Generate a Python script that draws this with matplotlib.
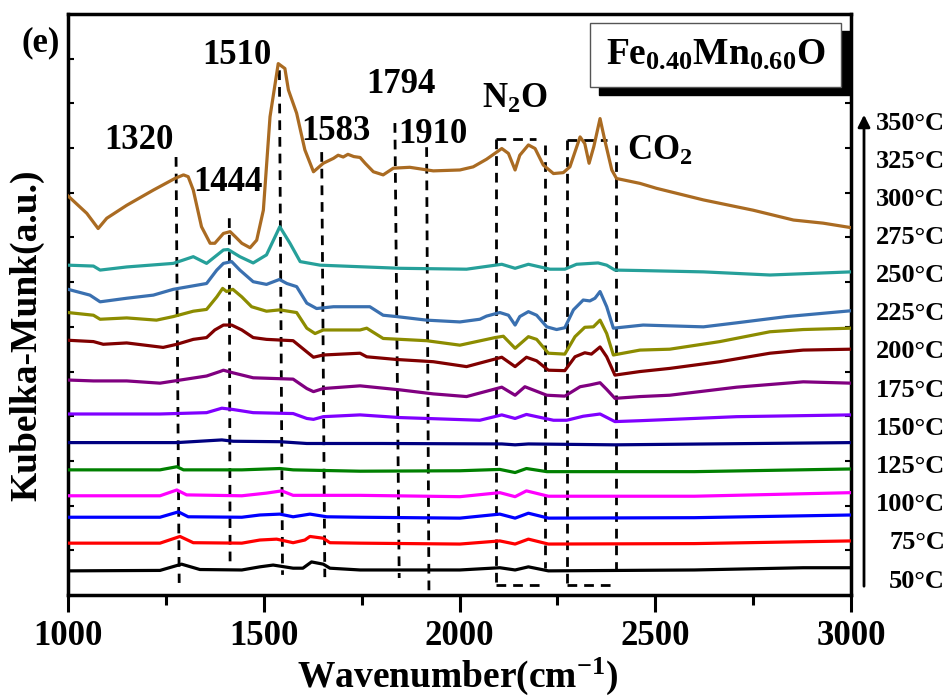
import numpy as np
import matplotlib
matplotlib.use('Agg')
from matplotlib import pyplot as plt
from matplotlib.patches import Rectangle

plt.rcParams['font.family'] = 'Liberation Serif'
plt.rcParams['font.weight'] = 'bold'
plt.rcParams['mathtext.fontset'] = 'custom'
plt.rcParams['mathtext.rm'] = 'Liberation Serif:bold'
plt.rcParams['mathtext.it'] = 'Liberation Serif:bold'
plt.rcParams['mathtext.bf'] = 'Liberation Serif:bold'

# in situ DRIFTS spectra, offset stacked, 50 -> 350 C
temps = ['50°C', '75°C', '100°C', '125°C', '150°C', '175°C', '200°C',
         '225°C', '250°C', '275°C', '300°C', '325°C', '350°C']
colors = ['#000000', '#FF0000', '#0000FF', '#FF00FF', '#008000', '#000080', '#8000FF',
          '#800080', '#800000', '#8C8C00', '#3A70B0', '#26A09A', '#AA6B22']

wn_50 = [1000, 1235, 1290, 1337, 1444, 1490, 1524, 1575, 1600, 1622, 1652, 1669, 1746, 2001, 2103, 2142, 2176, 2227, 2600, 2878, 3000]
km_50 = [0.54, 0.55, 0.69, 0.57, 0.56, 0.63, 0.67, 0.60, 0.60, 0.74, 0.69, 0.60, 0.56, 0.56, 0.61, 0.56, 0.63, 0.54, 0.56, 0.61, 0.61]

wn_75 = [1000, 1235, 1286, 1320, 1444, 1490, 1533, 1575, 1605, 1618, 1652, 1669, 1746, 2001, 2103, 2142, 2176, 2227, 2600, 3000]
km_75 = [1.16, 1.16, 1.31, 1.17, 1.16, 1.23, 1.25, 1.17, 1.23, 1.31, 1.27, 1.17, 1.16, 1.14, 1.21, 1.14, 1.25, 1.14, 1.15, 1.21]

wn_100 = [1000, 1235, 1282, 1307, 1444, 1490, 1541, 1575, 1618, 1661, 1746, 2001, 2103, 2142, 2176, 2227, 2600, 3000]
km_100 = [1.74, 1.74, 1.86, 1.75, 1.74, 1.79, 1.81, 1.75, 1.81, 1.75, 1.74, 1.72, 1.81, 1.72, 1.83, 1.72, 1.73, 1.79]

wn_125 = [1000, 1235, 1278, 1303, 1444, 1507, 1546, 1575, 1746, 2001, 2103, 2142, 2171, 2227, 2600, 3000]
km_125 = [2.22, 2.22, 2.35, 2.24, 2.22, 2.28, 2.33, 2.23, 2.23, 2.20, 2.29, 2.20, 2.33, 2.21, 2.21, 2.29]

wn_150 = [1000, 1235, 1278, 1295, 1444, 1541, 1575, 1746, 2001, 2103, 2142, 2171, 2223, 2600, 3000]
km_150 = [2.80, 2.80, 2.87, 2.80, 2.80, 2.83, 2.80, 2.77, 2.78, 2.81, 2.74, 2.83, 2.76, 2.76, 2.82]

wn_175 = [1000, 1278, 1393, 1422, 1541, 1610, 1800, 2108, 2142, 2176, 2397, 3000]
km_175 = [3.41, 3.41, 3.47, 3.44, 3.43, 3.39, 3.39, 3.38, 3.36, 3.38, 3.36, 3.41]

wn_200 = [1000, 1235, 1354, 1393, 1422, 1473, 1575, 1610, 1627, 1652, 1746, 1848, 2052, 2108, 2142, 2171, 2240, 2274, 2316, 2359, 2397, 2461, 2708, 3000]
km_200 = [4.05, 4.05, 4.08, 4.18, 4.15, 4.08, 4.06, 3.95, 3.93, 3.99, 4.03, 3.97, 3.91, 4.03, 3.95, 4.04, 3.91, 3.91, 4.00, 4.05, 3.88, 3.90, 3.99, 4.03]

wn_225 = [1000, 1065, 1150, 1235, 1354, 1388, 1397, 1422, 1473, 1575, 1610, 1627, 1652, 1746, 1848, 1933, 2018, 2108, 2142, 2167, 2223, 2269, 2308, 2333, 2359, 2376, 2397, 2461, 2537, 2708, 2878, 3000]
km_225 = [4.81, 4.79, 4.79, 4.74, 4.90, 5.00, 5.03, 4.97, 4.86, 4.83, 4.62, 4.55, 4.62, 4.68, 4.59, 4.50, 4.44, 4.65, 4.47, 4.66, 4.47, 4.45, 4.66, 4.70, 4.75, 4.60, 4.40, 4.44, 4.47, 4.65, 4.77, 4.74]

wn_250 = [1000, 1065, 1090, 1150, 1243, 1278, 1320, 1354, 1375, 1397, 1418, 1444, 1473, 1507, 1575, 1610, 1627, 1652, 1746, 1763, 1839, 1933, 2018, 2108, 2142, 2171, 2197, 2227, 2269, 2295, 2320, 2337, 2359, 2376, 2397, 2461, 2537, 2665, 2793, 2878, 3000]
km_250 = [5.70, 5.67, 5.61, 5.64, 5.54, 5.61, 5.72, 5.76, 5.93, 6.04, 6.04, 5.93, 5.76, 5.72, 5.69, 5.44, 5.32, 5.37, 5.41, 5.33, 5.27, 5.22, 5.11, 5.32, 5.11, 5.32, 5.24, 5.03, 5.02, 5.33, 5.42, 5.39, 5.55, 5.33, 4.92, 5.00, 5.07, 5.22, 5.41, 5.48, 5.50]

wn_275 = [1000, 1065, 1082, 1150, 1226, 1269, 1320, 1354, 1380, 1395, 1405, 1421, 1444, 1469, 1507, 1541, 1584, 1610, 1631, 1652, 1746, 1763, 1805, 1916, 2001, 2091, 2112, 2142, 2176, 2197, 2227, 2269, 2295, 2320, 2342, 2359, 2376, 2393, 2461, 2537, 2665, 2793, 2878, 3000]
km_275 = [6.32, 6.26, 6.17, 6.20, 6.15, 6.23, 6.35, 6.39, 6.67, 6.86, 6.79, 6.84, 6.67, 6.45, 6.35, 6.38, 6.32, 5.97, 5.85, 5.93, 5.93, 5.97, 5.74, 5.69, 5.59, 5.76, 5.79, 5.52, 5.78, 5.72, 5.41, 5.39, 5.78, 5.99, 6.00, 6.15, 5.85, 5.37, 5.48, 5.50, 5.67, 5.89, 5.94, 5.97]

wn_300 = [1000, 1056, 1082, 1150, 1218, 1269, 1354, 1380, 1397, 1418, 1439, 1473, 1507, 1540, 1559, 1584, 1610, 1635, 1678, 1771, 1805, 1839, 1916, 2001, 2052, 2069, 2103, 2125, 2142, 2154, 2176, 2197, 2223, 2248, 2269, 2291, 2316, 2333, 2346, 2359, 2376, 2393, 2469, 2623, 2708, 2836, 3000]
km_300 = [6.84, 6.71, 6.56, 6.64, 6.71, 6.84, 6.97, 7.27, 7.42, 7.46, 7.27, 7.01, 6.95, 7.06, 6.97, 6.90, 6.53, 6.41, 6.45, 6.45, 6.26, 6.23, 6.15, 6.11, 6.17, 6.24, 6.32, 6.26, 6.04, 6.23, 6.34, 6.26, 6.00, 5.94, 5.98, 6.38, 6.60, 6.58, 6.64, 6.79, 6.45, 5.97, 6.04, 6.00, 6.09, 6.23, 6.36]

wn_325 = [1000, 1065, 1082, 1150, 1269, 1320, 1354, 1397, 1409, 1439, 1473, 1507, 1541, 1567, 1593, 1644, 1848, 2018, 2108, 2142, 2176, 2231, 2269, 2299, 2354, 2376, 2397, 2461, 2623, 2793, 3000]
km_325 = [7.38, 7.36, 7.27, 7.34, 7.42, 7.57, 7.42, 7.72, 7.73, 7.57, 7.43, 7.61, 8.24, 7.87, 7.46, 7.38, 7.31, 7.29, 7.40, 7.31, 7.40, 7.29, 7.29, 7.40, 7.43, 7.38, 7.27, 7.26, 7.23, 7.16, 7.23]

wn_350 = [1000, 1048, 1077, 1099, 1150, 1218, 1273, 1295, 1307, 1320, 1341, 1363, 1375, 1397, 1414, 1427, 1444, 1465, 1482, 1499, 1516, 1537, 1554, 1563, 1584, 1605, 1627, 1652, 1678, 1690, 1703, 1715, 1730, 1746, 1759, 1780, 1805, 1831, 1873, 1933, 2001, 2035, 2069, 2108, 2125, 2142, 2154, 2176, 2193, 2214, 2240, 2265, 2282, 2308, 2320, 2331, 2343, 2359, 2371, 2389, 2401, 2461, 2503, 2623, 2750, 2853, 2929, 3000]
km_350 = [8.93, 8.54, 8.20, 8.43, 8.72, 9.06, 9.32, 9.40, 9.36, 9.06, 8.24, 7.87, 7.87, 8.09, 8.13, 8.02, 7.87, 7.77, 7.94, 8.61, 10.70, 11.89, 11.78, 11.30, 10.78, 9.96, 9.47, 9.66, 9.77, 9.84, 9.80, 9.86, 9.81, 9.79, 9.66, 9.47, 9.40, 9.55, 9.57, 9.49, 9.51, 9.58, 9.75, 9.99, 9.88, 9.51, 9.84, 10.07, 9.99, 9.62, 9.43, 9.45, 9.58, 10.25, 10.10, 9.66, 10.03, 10.66, 10.18, 9.51, 9.32, 9.21, 9.10, 8.84, 8.61, 8.39, 8.32, 8.22]

spectra = [(wn_50, km_50), (wn_75, km_75), (wn_100, km_100), (wn_125, km_125),
           (wn_150, km_150), (wn_175, km_175), (wn_200, km_200), (wn_225, km_225),
           (wn_250, km_250), (wn_275, km_275), (wn_300, km_300), (wn_325, km_325),
           (wn_350, km_350)]

# band markers: label, dashed line top/bottom x, top/bottom y, label position
band_labels = ['1320', '1444', '1510', '1583', '1794', '1910']
band_x_top = [1276, 1412, 1540, 1648, 1835, 1916]
band_x_bot = [1284, 1414, 1548, 1656, 1846, 1922]
band_y_top = [9.80, 8.43, 11.74, 9.91, 10.56, 10.02]
band_y_bot = [0.27, 0.72, 0.45, 0.40, 0.38, 0.0]
band_lab_x = [1181, 1409, 1432, 1684, 1850, 1932]
band_lab_y = [10.16, 9.24, 12.08, 10.36, 11.43, 10.31]

# gas phase regions (N2O, CO2)
gas_x = [2092, 2218, 2274, 2399]
gas_y_top = [10.20, 10.07, 10.18, 10.07]
gas_y_bot = [0.20, 0.60, 0.27, 0.51]

fig = plt.figure(figsize=(9.51, 6.97), dpi=100)
ax = fig.add_axes([68/951, 1 - 595/697, 783/951, 581/697])

for (x, y), c in zip(spectra, colors):
    ax.plot(x, y, color=c, lw=2.3, solid_joinstyle='round', zorder=3)

dash = dict(color='k', lw=2.0, ls=(0, (3.5, 2.5)), zorder=2)
for xt, xb, yt, yb in zip(band_x_top, band_x_bot, band_y_top, band_y_bot):
    ax.plot([xt, xb], [yt, yb], **dash)
for xg, yt, yb in zip(gas_x, gas_y_top, gas_y_bot):
    ax.plot([xg, xg], [yt, yb], **dash)
ax.plot([gas_x[0], 2195], [gas_y_top[0]] * 2, **dash)
ax.plot([gas_x[2], 2376], [gas_y_top[2]] * 2, **dash)
ax.plot([gas_x[0], gas_x[1]], [0.22, 0.22], **dash)
ax.plot([gas_x[2], 2393], [0.22, 0.22], **dash)

for lab, lx, ly in zip(band_labels, band_lab_x, band_lab_y):
    ax.text(lx, ly, lab, fontsize=25, fontweight='bold', ha='center', va='center', zorder=5)

ax.text(2057, 10.89, r'N$_2$O', fontsize=25, fontweight='bold', ha='left', va='baseline')
ax.text(2428, 9.73, r'CO$_2$', fontsize=25, fontweight='bold', ha='left', va='baseline')

# sample name box with drop shadow
ax.add_patch(Rectangle((2356, 11.18), 641, 1.44, facecolor='k', edgecolor='k', zorder=6))
ax.add_patch(Rectangle((2333, 11.36), 641, 1.44, facecolor='white', edgecolor='#555555',
                       lw=1.0, zorder=7))
ax.text(2655, 11.86, r'Fe$_{0.40}$Mn$_{0.60}$O', fontsize=27, fontweight='bold',
        ha='center', va='baseline', zorder=8)

ax.text(929, 12.35, '(e)', fontsize=25, fontweight='bold', ha='center', va='center')

ax.set_xlim(1000, 3000)
ax.set_ylim(0, 13)
ax.set_xticks([1000, 1500, 2000, 2500, 3000])
ax.set_xticks([1250, 1750, 2250, 2750], minor=True)
ax.set_yticks(np.arange(1, 13))
ax.tick_params(axis='x', which='major', direction='out', length=12, width=2.2,
               labelsize=25, pad=6)
ax.tick_params(axis='x', which='minor', direction='out', length=7, width=2.2)
ax.tick_params(axis='y', direction='in', length=4, width=1.5, left=True, right=True,
               labelleft=False)
for lbl in ax.get_xticklabels():
    lbl.set_fontweight('bold')
for sp in ax.spines.values():
    sp.set_linewidth(2.5)

fig.text(458/951, 10/697, r'Wavenumber(cm$^{-1}$)', fontsize=27, fontweight='bold',
         ha='center', va='baseline')
fig.text(27/951, 1 - 335/697, 'Kubelka-Munk(a.u.)', fontsize=27, fontweight='bold',
         ha='center', va='center', rotation=90)

# temperature ladder on the right
label_py = np.linspace(581, 123, len(temps))
for t, py in zip(temps, label_py):
    fig.text(945/951, 1 - py/697, t, fontsize=19, fontweight='bold', ha='right', va='center')
ax.annotate('', xy=(864/951, 1 - 112/697), xytext=(864/951, 1 - 589/697),
            xycoords='figure fraction', textcoords='figure fraction',
            arrowprops=dict(arrowstyle='-|>', lw=2, color='k', mutation_scale=18))

fig.savefig('out.png', dpi=100)
